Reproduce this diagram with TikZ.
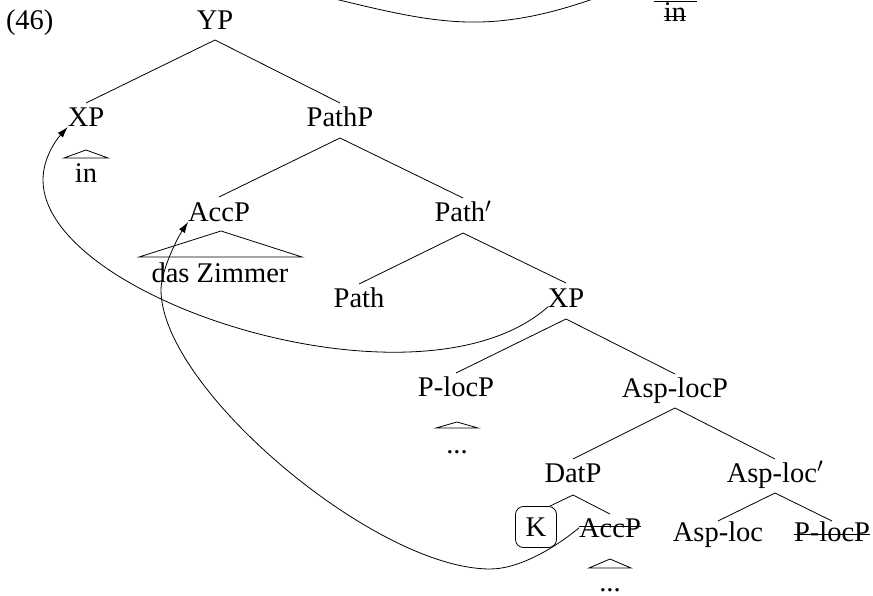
\documentclass[tikz,border=0pt]{standalone}
\usepackage{fontspec}
\setmainfont{Liberation Serif}
\usetikzlibrary{arrows.meta}
\begin{document}
\begin{tikzpicture}[x=1pt,y=-1pt,
  lab/.style={inner sep=0pt, outer sep=0pt, anchor=base, font=\fontsize{28.5}{34}\selectfont},
  br/.style={line width=0.8pt},
  mv/.style={line width=0.8pt},
  tip/.style={-{Latex[length=11pt,width=7pt]}}]
\useasboundingbox (0,0) rectangle (873,596);
\clip (0,0) rectangle (873,596);
% nodes
\node[lab, anchor=base west] (ex) at (6,30) {(46)};
\node[lab] (yp) at (215,30) {YP};
\node[lab] (xp1) at (86,127) {XP};
\node[lab] (pathp) at (340,127) {PathP};
\node[lab] (in1) at (86,183) {in};
\node[lab] (acc1) at (219,222) {AccP};
\node[lab] (pathbar) at (463,222) {Path$'$};
\node[lab] (zimmer) at (220,282) {das Zimmer};
\node[lab] (path) at (359,307) {Path};
\node[lab] (xp2) at (566,307) {XP};
\node[lab] (ploc) at (456,396) {P-locP};
\node[lab] (asplocp) at (675,397) {Asp-locP};
\node[lab] (dots1) at (457,453) {...};
\node[lab] (datp) at (573,482) {DatP};
\node[lab] (asplocbar) at (775,482) {Asp-loc$'$};
\node[draw, line width=0.8pt, rounded corners=8pt, minimum width=41pt, minimum height=41pt,
      inner sep=0pt, font=\fontsize{28.5}{34}\selectfont] (k) at (536,527) {K};
\node[lab] (accs) at (610,537) {AccP};
\node[lab] (asploc) at (718,541) {Asp-loc};
\node[lab] (plocs) at (832,541) {P-locP};
\node[lab] (dots2) at (610,591) {...};
\node[lab] (intop) at (675,22) {in};
% branches
\draw[br] ([yshift=24pt]xp1.base) -- ([yshift=-10pt]yp.base) -- ([yshift=24pt]pathp.base);
\draw[br] ([yshift=25pt]acc1.base) -- ([yshift=-11pt]pathp.base) -- ([yshift=24pt]pathbar.base);
\draw[br] ([yshift=23pt]path.base) -- ([yshift=-11pt]pathbar.base) -- ([yshift=24pt]xp2.base);
\draw[br] ([yshift=23pt]ploc.base) -- ([yshift=-12pt]xp2.base) -- ([yshift=23pt]asplocp.base);
\draw[br] ([yshift=23pt]datp.base) -- ([yshift=-11pt]asplocp.base) -- ([yshift=23pt]asplocbar.base);
\draw[br] ([xshift=-7pt]k.north east) -- ([yshift=-13pt]datp.base) -- ([yshift=23pt]accs.base);
\draw[br] ([yshift=20pt]asploc.base) -- ([yshift=-11pt]asplocbar.base) -- ([yshift=20pt]plocs.base);
% roofs
\draw[br] ([xshift=-22pt,yshift=25pt]in1.base) -- ([yshift=33pt]in1.base) -- ([xshift=22pt,yshift=25pt]in1.base) -- cycle;
\draw[br] ([xshift=-81pt,yshift=25pt]zimmer.base) -- ([xshift=1pt,yshift=51pt]zimmer.base) -- ([xshift=82pt,yshift=25pt]zimmer.base) -- cycle;
\draw[br] ([xshift=-21pt,yshift=25pt]dots1.base) -- ([yshift=31pt]dots1.base) -- ([xshift=21pt,yshift=25pt]dots1.base) -- cycle;
\draw[br] ([xshift=-21pt,yshift=23pt]dots2.base) -- ([yshift=32pt]dots2.base) -- ([xshift=21pt,yshift=23pt]dots2.base) -- cycle;
\draw[br] ([xshift=-21.5pt,yshift=21pt]intop.base) -- ([xshift=21.5pt,yshift=21pt]intop.base);
% strike-throughs
\draw[br] ([yshift=6pt]intop.base west) -- ([yshift=6pt]intop.base east);
\draw[br] ([yshift=11pt]accs.base west) -- ([yshift=11pt]accs.base east);
\draw[br] ([yshift=7pt]plocs.base west) -- ([yshift=7pt]plocs.base east);
% movement curves
\draw[mv] (335,-1) .. controls (438,24) and (489,35) .. (593,-1);
\draw[mv,tip] (xp2.base west) .. controls (420,420) and (43,300) .. (43,180)
  .. controls (43,158) and (56,140) .. (xp1.base west);
\draw[mv,tip] (accs.west) .. controls (556,547) and (520,569) .. (490,569)
  .. controls (375,569) and (161,388) .. (161,290) .. controls (161,270) and (178,237) .. (acc1.base west);
\end{tikzpicture}
\end{document}
